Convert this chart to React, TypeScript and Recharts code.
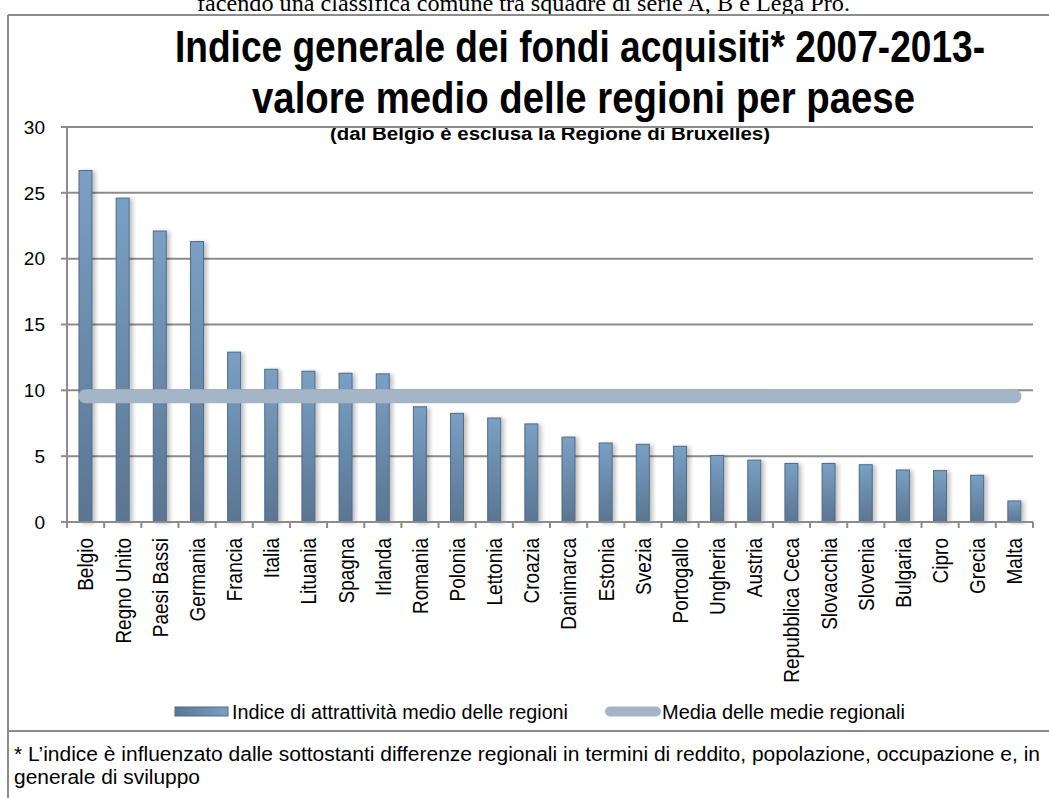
import React from 'react';
import { ComposedChart, Bar, Line, XAxis, YAxis, CartesianGrid, Legend } from 'recharts';

// values
const countries = [
  'Belgio', 'Regno Unito', 'Paesi Bassi', 'Germania', 'Francia', 'Italia', 'Lituania',
  'Spagna', 'Irlanda', 'Romania', 'Polonia', 'Lettonia', 'Croazia', 'Danimarca', 'Estonia',
  'Svezia', 'Portogallo', 'Ungheria', 'Austria', 'Repubblica Ceca', 'Slovacchia', 'Slovenia',
  'Bulgaria', 'Cipro', 'Grecia', 'Malta',
];
const attractivenessIndex = [
  26.7, 24.6, 22.1, 21.3, 12.9, 11.6, 11.45, 11.3, 11.25, 8.75, 8.25, 7.9, 7.45,
  6.45, 6.0, 5.9, 5.75, 5.05, 4.7, 4.45, 4.45, 4.35, 3.95, 3.9, 3.55, 1.6,
];
const regionalMean = [
  9.55, 9.55, 9.55, 9.55, 9.55, 9.55, 9.55, 9.55, 9.55, 9.55, 9.55, 9.55, 9.55,
  9.55, 9.55, 9.55, 9.55, 9.55, 9.55, 9.55, 9.55, 9.55, 9.55, 9.55, 9.55, 9.55,
];
const yTicks = [0, 5, 10, 15, 20, 25, 30];

const seriesNames = ['Indice di attrattività medio delle regioni', 'Media delle medie regionali'];

const data = countries.map((name, i) => ({
  name,
  indice: attractivenessIndex[i],
  media: regionalMean[i],
}));

const W = 1049;
const CHART_H = 730;
const MARGIN = { top: 127, right: 16, bottom: 0, left: 0 };
const Y_W = 67;
const X_H = 208;
const TICK_SIZE = 6;
const TICK_MARGIN = 10;
const BAND = (W - MARGIN.left - MARGIN.right - Y_W) / countries.length;
const GRID = '#8c8c8c';
const FONT = '"Liberation Sans", Arial, sans-serif';

const XTick = (props: any) => {
  const { x, y, payload, index } = props;
  const axisY = y - TICK_SIZE - TICK_MARGIN;
  const left = x - BAND / 2;
  const right = x + BAND / 2;
  return (
    <g>
      <line x1={left} x2={left} y1={axisY} y2={axisY + TICK_SIZE} stroke={GRID} strokeWidth={2} />
      {index === countries.length - 1 && (
        <line x1={right} x2={right} y1={axisY} y2={axisY + TICK_SIZE} stroke={GRID} strokeWidth={2} />
      )}
      {/* rotated label, a bit thicker across like the scanned original */}
      <text
        transform={`translate(${x} ${y}) rotate(-90) scale(1 1.15)`}
        textAnchor="end"
        dy="0.36em"
        fontSize={19}
        fontFamily={FONT}
        fill="#000"
      >
        {payload.value}
      </text>
    </g>
  );
};

const BarShape = (p: any) => (
  <rect
    x={p.x}
    y={p.y}
    width={p.width}
    height={p.height}
    fill="url(#barGrad)"
    stroke="#4e6b89"
    strokeWidth={1}
    filter="url(#barShadow)"
  />
);

const LegendContent = () => (
  <svg width={W} height={26}>
    <defs>
      <linearGradient id="legGrad" x1="0" y1="0" x2="1" y2="0">
        <stop offset="0%" stopColor="#5a7794" />
        <stop offset="100%" stopColor="#7c9fc2" />
      </linearGradient>
    </defs>
    <rect x={175} y={8} width={53} height={9} fill="url(#legGrad)" stroke="#4e6b89" strokeWidth={1} />
    <text x={232} y={20} fontSize={20} fontFamily={FONT} textLength={336} lengthAdjust="spacingAndGlyphs">
      {seriesNames[0]}
    </text>
    <line x1={610} x2={656} y1={12.5} y2={12.5} stroke="#a4b5c7" strokeWidth={10} strokeLinecap="round" />
    <text x={662} y={20} fontSize={20} fontFamily={FONT} textLength={243} lengthAdjust="spacingAndGlyphs">
      {seriesNames[1]}
    </text>
  </svg>
);

export default function App() {
  return (
    <div
      style={{
        position: 'absolute',
        left: 0,
        top: 0,
        width: W,
        height: 798,
        overflow: 'hidden',
        background: '#fff',
        fontFamily: FONT,
      }}
    >
      <svg width={W} height={798} style={{ position: 'absolute', left: 0, top: 0 }}>
        <text
          x={197}
          y={11}
          fontSize={24}
          fontFamily='"Liberation Serif", "DejaVu Serif", serif'
          textLength={653}
          lengthAdjust="spacingAndGlyphs"
        >
          facendo una classifica comune tra squadre di serie A, B e Lega Pro.
        </text>
        <line x1={8} x2={W} y1={15} y2={15} stroke={GRID} strokeWidth={2} />
        <line x1={8} x2={8} y1={15} y2={798} stroke={GRID} strokeWidth={2} />
        <line x1={8} x2={W} y1={731} y2={731} stroke={GRID} strokeWidth={2} />
        {/* condensed, tall title like the original */}
        <text
          transform="translate(175 62) scale(1 1.2)"
          fontSize={37}
          fontWeight="bold"
          textLength={810}
          lengthAdjust="spacingAndGlyphs"
        >
          Indice generale dei fondi acquisiti* 2007-2013-
        </text>
        <text
          transform="translate(252 113) scale(1 1.2)"
          fontSize={37}
          fontWeight="bold"
          textLength={663}
          lengthAdjust="spacingAndGlyphs"
        >
          valore medio delle regioni per paese
        </text>
        <text x={330} y={140} fontSize={18} fontWeight="bold" textLength={440} lengthAdjust="spacingAndGlyphs">
          (dal Belgio è  esclusa la Regione di Bruxelles)
        </text>
        <text x={14} y={761} fontSize={20} textLength={1026} lengthAdjust="spacingAndGlyphs">
          * L’indice è influenzato dalle sottostanti differenze regionali in termini di reddito, popolazione, occupazione e, in
        </text>
        <text x={14} y={784} fontSize={20} textLength={186} lengthAdjust="spacingAndGlyphs">
          generale di sviluppo
        </text>
      </svg>
      <div style={{ position: 'absolute', left: 0, top: 0 }}>
        <ComposedChart width={W} height={CHART_H} data={data} margin={MARGIN}>
          <defs>
            <linearGradient id="barGrad" x1="0" y1="0" x2="0" y2="1">
              <stop offset="0%" stopColor="#7aa0c4" />
              <stop offset="100%" stopColor="#5a7591" />
            </linearGradient>
            <filter id="barShadow" x="-50%" y="-10%" width="200%" height="120%">
              <feDropShadow dx={3} dy={1} stdDeviation={2} floodColor="#000" floodOpacity={0.25} />
            </filter>
          </defs>
          <CartesianGrid vertical={false} stroke={GRID} strokeWidth={2} />
          <XAxis
            dataKey="name"
            interval={0}
            height={X_H}
            tickLine={false}
            tickSize={TICK_SIZE}
            tickMargin={TICK_MARGIN}
            axisLine={{ stroke: GRID, strokeWidth: 2 }}
            tick={<XTick />}
          />
          <YAxis
            width={Y_W}
            domain={[0, 30]}
            ticks={yTicks}
            interval={0}
            tickSize={TICK_SIZE}
            tickMargin={16}
            tickLine={{ stroke: GRID, strokeWidth: 2 }}
            axisLine={{ stroke: GRID, strokeWidth: 2 }}
            tick={{ fontSize: 19, fill: '#000', fontFamily: FONT }}
          />
          <Legend
            verticalAlign="middle"
            align="center"
            content={<LegendContent />}
            wrapperStyle={{ position: 'absolute', left: 0, top: 699, width: W, height: 26 }}
          />
          <Bar
            dataKey="indice"
            name={seriesNames[0]}
            barSize={13}
            shape={<BarShape />}
            isAnimationActive={false}
          />
          <Line
            dataKey="media"
            name={seriesNames[1]}
            stroke="#a4b5c7"
            strokeWidth={14}
            strokeLinecap="round"
            dot={false}
            activeDot={false}
            isAnimationActive={false}
          />
        </ComposedChart>
      </div>
    </div>
  );
}
